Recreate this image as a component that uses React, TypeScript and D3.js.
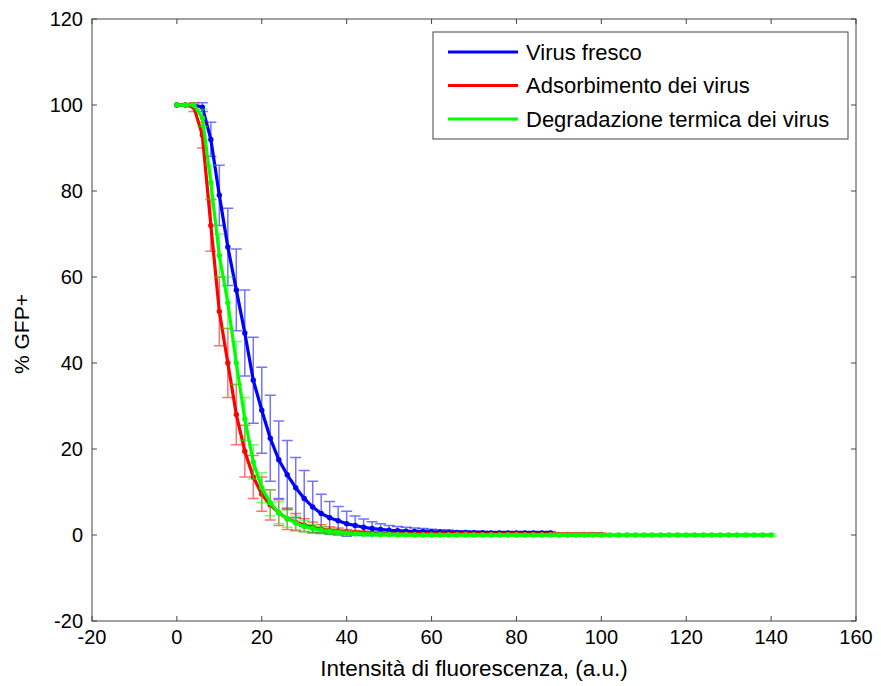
import React, { useEffect, useRef } from "react";
import * as d3 from "d3";

// x grid (fluorescence intensity, a.u.)
const xValues = [
  0, 2, 4, 6, 8, 10, 12, 14, 16, 18, 20, 22, 24, 26, 28, 30, 32, 34, 36, 38,
  40, 42, 44, 46, 48, 50, 52, 54, 56, 58, 60, 62, 64, 66, 68, 70, 72, 74, 76,
  78, 80, 82, 84, 86, 88, 90, 92, 94, 96, 98, 100, 102, 104, 106, 108, 110,
  112, 114, 116, 118, 120, 122, 124, 126, 128, 130, 132, 134, 136, 138, 140,
];

const seriesNames = [
  "Virus fresco",
  "Adsorbimento dei virus",
  "Degradazione termica dei virus",
];
const seriesColors = ["#0000ff", "#ff0000", "#00ff00"];

const freshMean = [
  100, 100, 100, 99.5, 92, 79, 67, 57, 47, 36, 29, 22.5, 17.5, 14, 11, 8.5,
  6.5, 5, 4, 3.3, 2.6, 2.2, 1.8, 1.5, 1.3, 1.1, 1, 0.9, 0.85, 0.8, 0.75, 0.7,
  0.65, 0.6, 0.6, 0.55, 0.55, 0.5, 0.5, 0.5, 0.5, 0.5, 0.5, 0.5, 0.5,
];
const freshErr = [
  0, 0, 0, 1, 4, 7, 9, 9.5, 10, 10, 10, 10, 9, 8, 7, 6.5, 6, 4.5, 3.8, 3.3,
  2.9, 2.2, 1.9, 1.6, 1.3, 1.1, 1, 0.9, 0.8, 0.7, 0.6, 0.5, 0.5, 0.4, 0.4,
  0.4, 0.3, 0.3, 0.3, 0.3, 0.3, 0.3, 0.3, 0.3, 0.3,
];

const adsorbMean = [
  100, 100, 99.5, 93, 72, 52, 40, 28, 19.5, 13.5, 9.5, 7, 5.2, 3.8, 3, 2.3,
  1.8, 1.4, 1.1, 0.9, 0.7, 0.55, 0.45, 0.35, 0.3, 0.25, 0.2, 0.2, 0.2, 0.2,
  0.2, 0.2, 0.2, 0.25, 0.3, 0.2, 0.15, 0.15, 0.15, 0.2, 0.25, 0.15, 0.15,
  0.15, 0.15, 0.15, 0.15, 0.15, 0.15, 0.15, 0.15,
];
const adsorbErr = [
  0, 0, 1, 3, 6, 8, 8, 7, 6, 5, 4, 3.5, 3, 2.5, 2, 1.5, 1.2, 1, 0.8, 0.7,
  0.6, 0.5, 0.5, 0.4, 0.4, 0.3, 0.3, 0.3, 0.3, 0.3, 0.3, 0.3, 0.3, 0.3, 0.3,
  0.3, 0.3, 0.3, 0.3, 0.3, 0.3, 0.3, 0.3, 0.3, 0.3, 0.3, 0.3, 0.3, 0.3, 0.3,
  0.3,
];

const thermalMean = [
  100, 100, 100, 97, 82, 65, 54, 40, 27, 17, 11, 7.5, 5.2, 3.8, 2.8, 2, 1.5,
  1.1, 0.8, 0.6, 0.4, 0.3, 0.2, 0.15, 0.1, 0.1, 0.05, 0.05, 0, 0, 0, 0, 0, 0,
  0, 0, 0, 0, 0, 0, 0, 0, 0, 0, 0, 0, 0, 0, 0, 0, 0, 0, 0, 0, 0, 0, 0, 0, 0,
  0, 0, 0, 0, 0, 0, 0, 0, 0, 0, 0, 0,
];
const thermalErr = [
  0, 0, 0, 2, 4, 5, 6, 5, 5, 4, 3.5, 3, 2.5, 2, 1.6, 1.3, 1, 0.8, 0.6, 0.5,
  0.4, 0.3, 0.3, 0.3, 0.3, 0.3, 0.3, 0.3, 0.3, 0.3, 0.3, 0.3, 0.3, 0.3, 0.3,
  0.3, 0.3, 0.3, 0.3, 0.3, 0.3, 0.3, 0.3, 0.3, 0.3, 0.3, 0.3, 0.3, 0.3, 0.3,
  0.3, 0.3, 0.3, 0.3, 0.3, 0.3, 0.3, 0.3, 0.3, 0.3, 0.3, 0.3, 0.3, 0.3, 0.3,
  0.3, 0.3, 0.3, 0.3, 0.3, 0.3,
];

const xTicks = [-20, 0, 20, 40, 60, 80, 100, 120, 140, 160];
const yTicks = [-20, 0, 20, 40, 60, 80, 100, 120];

export default function App() {
  const ref = useRef(null);
  const width = 881;
  const height = 686;
  const margin = { left: 92, right: 25, top: 19, bottom: 65 };

  useEffect(() => {
    const svg = d3.select(ref.current);
    svg.selectAll("*").remove();
    const font = "Arial, 'Liberation Sans', sans-serif";

    const xScale = d3
      .scaleLinear()
      .domain([-20, 160])
      .range([margin.left, width - margin.right]);
    const yScale = d3
      .scaleLinear()
      .domain([-20, 120])
      .range([height - margin.bottom, margin.top]);

    const series = [
      { mean: freshMean, err: freshErr },
      { mean: adsorbMean, err: adsorbErr },
      { mean: thermalMean, err: thermalErr },
    ].map((s, i) => ({
      name: seriesNames[i],
      color: seriesColors[i],
      points: s.mean.map((m, j) => ({ x: xValues[j], y: m, e: s.err[j] })),
    }));

    const line = d3
      .line()
      .x((d) => xScale(d.x))
      .y((d) => yScale(d.y));

    const cap = 5.5;
    series.forEach((s) => {
      const g = svg.append("g");
      const bars = g
        .append("g")
        .attr("stroke", s.color)
        .attr("stroke-opacity", 0.55)
        .attr("stroke-width", 1.5)
        .attr("fill", "none");
      s.points
        .filter((d) => d.e > 0)
        .forEach((d) => {
          const cx = xScale(d.x);
          const y0 = yScale(d.y - d.e);
          const y1 = yScale(d.y + d.e);
          bars
            .append("path")
            .attr(
              "d",
              `M${cx},${y0}V${y1}M${cx - cap},${y0}H${cx + cap}M${cx - cap},${y1}H${cx + cap}`
            );
        });

      g.append("path")
        .datum(s.points)
        .attr("fill", "none")
        .attr("stroke", s.color)
        .attr("stroke-width", 3.2)
        .attr("stroke-linejoin", "round")
        .attr("d", line);

      g.append("g")
        .selectAll("circle")
        .data(s.points)
        .enter()
        .append("circle")
        .attr("cx", (d) => xScale(d.x))
        .attr("cy", (d) => yScale(d.y))
        .attr("r", 2.7)
        .attr("fill", s.color);
    });

    // box and ticks
    const x0 = xScale(-20);
    const x1 = xScale(160);
    const y0 = yScale(-20);
    const y1 = yScale(120);
    const axisColor = "#444";
    svg
      .append("rect")
      .attr("x", x0)
      .attr("y", y1)
      .attr("width", x1 - x0)
      .attr("height", y0 - y1)
      .attr("fill", "none")
      .attr("stroke", axisColor)
      .attr("stroke-width", 1);

    const tickLen = 5;
    const ticks = svg.append("g").attr("stroke", axisColor).attr("stroke-width", 1);
    xTicks.forEach((t) => {
      const x = xScale(t);
      ticks.append("line").attr("x1", x).attr("x2", x).attr("y1", y0).attr("y2", y0 - tickLen);
      ticks.append("line").attr("x1", x).attr("x2", x).attr("y1", y1).attr("y2", y1 + tickLen);
    });
    yTicks.forEach((t) => {
      const y = yScale(t);
      ticks.append("line").attr("x1", x0).attr("x2", x0 + tickLen).attr("y1", y).attr("y2", y);
      ticks.append("line").attr("x1", x1).attr("x2", x1 - tickLen).attr("y1", y).attr("y2", y);
    });

    svg
      .append("g")
      .selectAll("text")
      .data(xTicks)
      .enter()
      .append("text")
      .attr("x", (d) => xScale(d))
      .attr("y", y0 + 23)
      .attr("text-anchor", "middle")
      .attr("font-family", font)
      .attr("font-size", 20)
      .text((d) => d);

    svg
      .append("g")
      .selectAll("text")
      .data(yTicks)
      .enter()
      .append("text")
      .attr("x", x0 - 9)
      .attr("y", (d) => yScale(d))
      .attr("dy", "0.36em")
      .attr("text-anchor", "end")
      .attr("font-family", font)
      .attr("font-size", 20)
      .text((d) => d);

    svg
      .append("text")
      .attr("x", (x0 + x1) / 2)
      .attr("y", 676)
      .attr("text-anchor", "middle")
      .attr("font-family", font)
      .attr("font-size", 22.5)
      .text("Intensità di fluorescenza, (a.u.)");

    svg
      .append("text")
      .attr("transform", `translate(29, 334) rotate(-90)`)
      .attr("text-anchor", "middle")
      .attr("font-family", font)
      .attr("font-size", 21)
      .text("% GFP+");

    // legend
    const legend = svg.append("g");
    legend
      .append("rect")
      .attr("x", 433)
      .attr("y", 32)
      .attr("width", 415)
      .attr("height", 107)
      .attr("fill", "white")
      .attr("stroke", axisColor)
      .attr("stroke-width", 1);
    series.forEach((s, i) => {
      const ly = 52 + i * 33.5;
      legend
        .append("line")
        .attr("x1", 448)
        .attr("x2", 518)
        .attr("y1", ly)
        .attr("y2", ly)
        .attr("stroke", s.color)
        .attr("stroke-width", 3);
      legend
        .append("text")
        .attr("x", 526)
        .attr("y", ly)
        .attr("dy", "0.36em")
        .attr("font-family", font)
        .attr("font-size", 22)
        .text(s.name);
    });
  }, []);

  return (
    <svg
      ref={ref}
      width={width}
      height={height}
      style={{ position: "absolute", left: 0, top: 0, background: "white" }}
    ></svg>
  );
}
